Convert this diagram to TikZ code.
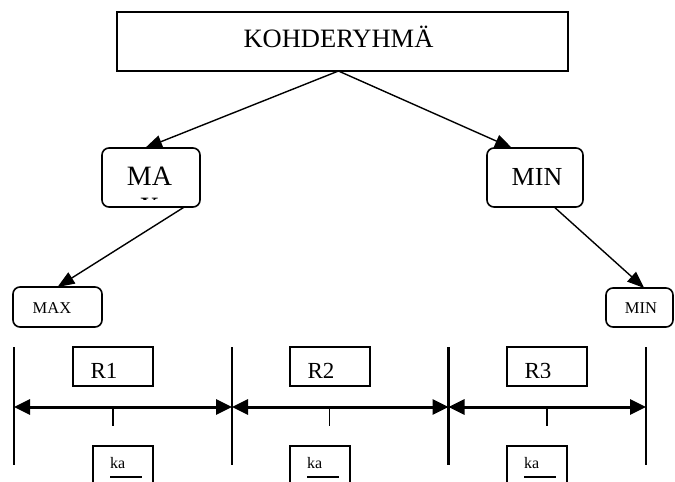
\documentclass[tikz,border=0pt]{standalone}
\usepackage{fontspec}
\setmainfont{Liberation Serif}
\usetikzlibrary{arrows.meta,calc}
\begin{document}
\begin{tikzpicture}[x=1pt,y=-1pt,
  boxline/.style={draw, line width=1.8pt, inner sep=0pt, outer sep=0pt},
  roundbox/.style={boxline, line width=1.6pt, rounded corners=7pt},
  thinbox/.style={draw, line width=1.5pt},
  txt/.style={anchor=base, inner sep=0pt, outer sep=0pt, font=\fontsize{#1}{#1}\selectfont},
  txtleft/.style={anchor=base west, inner sep=0pt, outer sep=0pt, font=\fontsize{#1}{#1}\selectfont},
  link/.style={line width=1.4pt, -{Triangle[length=17pt,width=13pt]}},
  span/.style={line width=3pt, {Triangle[length=16pt,width=15pt]}-{Triangle[length=16pt,width=15pt]}},
  rule/.style={line width=2.2pt},
  tick/.style={line width=1.8pt},
]
\useasboundingbox (0,0) rectangle (675,482);

% top level
\node[boxline, minimum width=451pt, minimum height=59pt] (group) at (342.5,41.5) {};
\node[txt=26.5] (grouptext) at (338.5,47) {KOHDERYHMÄ};

% second level boxes
\node[roundbox, minimum width=98pt, minimum height=59pt] (maxbig) at (151,177.5) {};
\begin{scope}
  \clip (103,149) rectangle (199,199.5);
  \node[txt=28] (maxbigA) at (149.5,185) {MA};
  \node[txt=28] (maxbigB) at (149.5,216.5) {X};
\end{scope}
\node[roundbox, minimum width=96pt, minimum height=59pt] (minbig) at (535,177.5) {};
\node[txt=26] (minbigtext) at (537,185) {MIN};

% third level boxes
\node[roundbox, minimum width=89pt, minimum height=40pt] (maxsmall) at (57.5,307) {};
\node[txt=16.5] (maxsmalltext) at (52,313) {MAX};
\node[roundbox, minimum width=67pt, minimum height=39pt] (minsmall) at (639.5,307.5) {};
\node[txt=16.5] (minsmalltext) at (641,313) {MIN};

% connectors
\coordinate (groupfoot) at ($(group.south west)!0.491!(group.south east)$);
\draw[link] (groupfoot) -- ($(maxbig.north west)!0.44!(maxbig.north east)$);
\draw[link] (groupfoot) -- ($(minbig.north west)!0.26!(minbig.north east)$);
\draw[link] ($(maxbig.south west)!0.84!(maxbig.south east)$) -- (maxsmall.north);
\draw[link] ($(minbig.south west)!0.7!(minbig.south east)$) -- ($(minsmall.north west)!0.57!(minsmall.north east)$);

% range boundaries
\foreach \n/\x in {1/14,2/232,3/448.5,4/646}{
  \coordinate (t\n) at (\x,347);
  \coordinate (m\n) at (\x,407);
  \coordinate (b\n) at (\x,465);
  \draw[rule] (t\n) -- (b\n);
}
\draw[span] (m1) -- (m2);
\draw[span] (m2) -- (m3);
\draw[span] (m3) -- (m4);
\draw[tick] ($(m1)!0.454!(m2)$) -- ++(0,19);
\draw[tick] ($(m2)!0.45!(m3)$) -- ++(0,19);
\draw[tick] ($(m3)!0.497!(m4)$) -- ++(0,19);

% range labels, clipped at the inner bottom of their boxes
\foreach \n/\x in {1/73,2/290,3/507}{
  \node[thinbox, inner sep=0pt, outer sep=0pt, minimum width=80pt, minimum height=39pt, anchor=north west] (r\n) at (\x,347) {};
  \begin{scope}
    \clip (\x,348) rectangle ++(79,29.3);
    \node[txtleft=23] (r\n text) at ($(r\n.north west)+(17.5,31.5)$) {R\n};
  \end{scope}
}

% open boxes under the ticks
\foreach \n/\x in {1/93,2/290,3/507}{
  \draw[line width=1.2pt] (\x,490) -- (\x,446) -- ++(60,0) -- ++(0,44);
  \node[txtleft=16] (ka\n) at (\x+17,468) {ka};
  \draw[line width=1.5pt] (ka\n.base west) ++(0,9) -- ++(32,0);
}
\end{tikzpicture}
\end{document}
